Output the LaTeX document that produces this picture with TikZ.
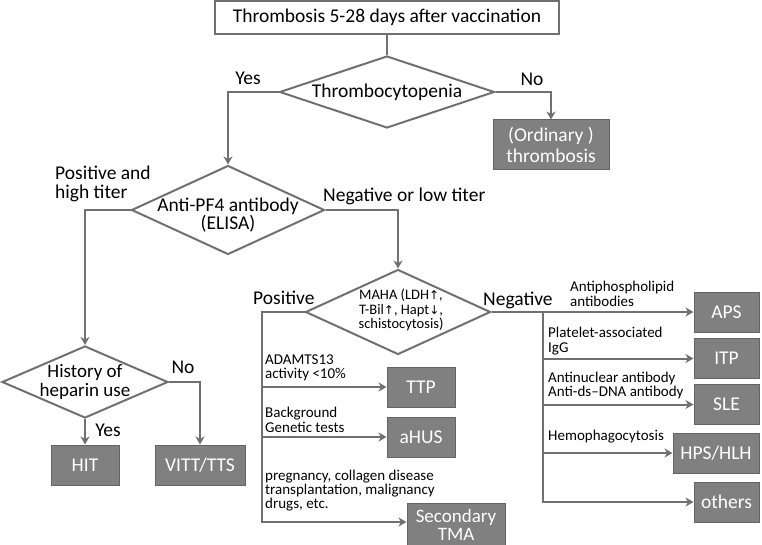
\documentclass[tikz,border=0pt]{standalone}
\usepackage{fontspec}
\setmainfont{Carlito}
\newfontfamily\arrowfont{DejaVu Sans}
\usetikzlibrary{positioning,shapes.geometric,arrows.meta}
\definecolor{linegray}{RGB}{112,112,112}
\definecolor{boxgray}{RGB}{128,128,128}
\definecolor{edgegray}{RGB}{100,100,100}
\newcommand{\upar}{{\arrowfont\fontsize{12}{12}\selectfont ↑}}
\newcommand{\downar}{{\arrowfont\fontsize{12}{12}\selectfont ↓}}

\begin{document}
\begin{tikzpicture}[x=1pt,y=-1pt,
    bigtext/.style={font=\fontsize{19.5}{20}\selectfont},
    smalltext/.style={font=\fontsize{15}{14.5}\selectfont},
    startbox/.style={draw=linegray, line width=1.5pt, fill=white, minimum width=344pt, minimum height=33pt, inner sep=0pt, bigtext},
    decision/.style={diamond, draw=linegray, line width=2pt, inner sep=0pt},
    dtext/.style={inner sep=0pt, align=center},
    result/.style={draw=edgegray, line width=1pt, fill=boxgray, text=white, inner sep=0pt, align=center, bigtext},
    label/.style={inner sep=0pt, bigtext},
    note/.style={anchor=west, align=left, inner sep=0pt, smalltext},
    conn/.style={draw=linegray, line width=2pt},
    arr/.style={conn, -{Stealth[length=8pt,width=9pt,inset=2.5pt]}}]
    \useasboundingbox (0,0) rectangle (762,545);
    % top and first decision
    \node[startbox] (start) at (387,17.5) {Thrombosis 5-28 days after vaccination};
    \node[decision, minimum width=215pt, minimum height=72pt] (thr) at (387,92) {};
    \node[dtext, bigtext] (thrtxt) at (thr.center) {Thrombocytopenia};
    \node[result, minimum width=116pt, minimum height=50pt, font=\fontsize{19.5}{21}\selectfont] (ord) at (551,145) {(Ordinary )\\thrombosis};
    \node[decision, minimum width=193pt, minimum height=89pt] (pf4) at (228,210) {};
    \node[dtext, font=\fontsize{19.5}{16}\selectfont] (pf4txt) at ([yshift=-5pt]pf4.center) {Anti-PF4 antibody\\(ELISA)};
    % heparin branch
    \node[decision, minimum width=166pt, minimum height=72pt] (hist) at (85,382) {};
    \node[dtext, font=\fontsize{19}{18.5}\selectfont] (histtxt) at (hist.center) {History of\\heparin use};
    \node[result, minimum width=68pt, minimum height=40pt] (hit) at (85,465) {HIT};
    \node[result, minimum width=90pt, minimum height=40pt] (vitt) at (200,465) {VITT/TTS};
    % MAHA branch
    \node[decision, minimum width=185pt, minimum height=85pt] (maha) at (398,312) {};
    \node[dtext, font=\fontsize{14.5}{14.5}\selectfont] (mahatxt) at ([xshift=3pt,yshift=2pt]maha.center) {MAHA (LDH\upar,\\T-Bil\upar, Hapt\downar,\\schistocytosis)};
    \node[result, minimum width=68pt, minimum height=40pt] (ttp) at (421,387) {TTP};
    \node[result, minimum width=68pt, minimum height=40pt] (ahus) at (421,437) {aHUS};
    \node[result, minimum width=98pt, minimum height=44pt, font=\fontsize{19}{18.5}\selectfont] (tma) at (456,525) {Secondary\\TMA};
    \node[result, minimum width=65pt, minimum height=40pt] (aps) at (726.5,312) {APS};
    \node[result, minimum width=65pt, minimum height=40pt] (itp) at (726.5,358.5) {ITP};
    \node[result, minimum width=65pt, minimum height=40pt] (sle) at (726.5,404.5) {SLE};
    \node[result, minimum width=86pt, minimum height=40pt] (hps) at (716,453) {HPS/HLH};
    \node[result, minimum width=65pt, minimum height=40pt] (oth) at (726.5,502) {others};
    \coordinate (posbot) at (262,522);
    \coordinate (negcol) at (543,0);
    % connectors
    \draw[conn] (start) -- (thr);
    \draw[arr] (thr.west) -| (pf4.north);
    \draw[arr] (thr.east) -| (ord.north);
    \draw[arr] (pf4.west) -| (hist.north);
    \draw[arr] (pf4.east) -| (maha.north);
    \draw[arr] (hist.east) -| (vitt.north);
    \draw[arr] (hist.south) -- (hit.north);
    \draw[arr] (maha.west) -| (posbot) -- (posbot -| tma.west);
    \draw[arr] (posbot |- ttp.west) -- (ttp.west);
    \draw[arr] (posbot |- ahus.west) -- (ahus.west);
    \draw[arr] (maha.east) -- (aps.west);
    \draw[arr] (negcol |- aps.west) |- (oth.west);
    \draw[arr] (negcol |- itp.west) -- (itp.west);
    \draw[arr] (negcol |- sle.west) -- (sle.west);
    \draw[arr] (negcol |- hps.west) -- (hps.west);
    % branch labels
    \node[label] (yes1) at (248,78) {Yes};
    \node[label] (no1) at (532,79) {No};
    \node[label, anchor=west, align=left, font=\fontsize{19.5}{19}\selectfont] (hightiter) at (55,184) {Positive and\\high titer};
    \node[label, anchor=west] (lowtiter) at (323,196) {Negative or low titer};
    \node[label] (no2) at (183,367) {No};
    \node[label] (yes2) at (108,430) {Yes};
    \node[label, anchor=west] (posl) at (253,298) {Positive};
    \node[label, anchor=west] (negl) at (483,300) {Negative};
    % test notes
    \node[note] (adamts) at (265,368) {ADAMTS13\\activity <10\%};
    \node[note] (genetic) at (265,420) {Background\\Genetic tests};
    \node[note, font=\fontsize{15}{14}\selectfont] (secondary) at (265,491) {pregnancy, collagen disease\\transplantation, malignancy\\drugs, etc.};
    \node[note] (apl) at (570,294) {Antiphospholipid\\antibodies};
    \node[note] (paigg) at (548,341) {Platelet-associated\\IgG};
    \node[note] (ana) at (548,385.5) {Antinuclear antibody\\Anti-ds–DNA antibody};
    \node[note] (hemo) at (548,437) {Hemophagocytosis};
\end{tikzpicture}
\end{document}
